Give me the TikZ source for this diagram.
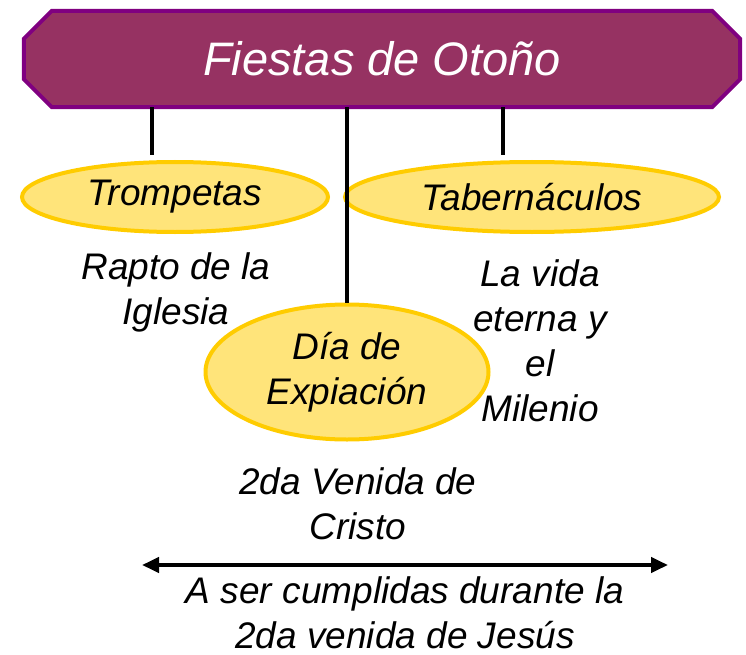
\documentclass[tikz,border=0pt]{standalone}
\usepackage{fontspec}
\setmainfont{Liberation Sans}
\usetikzlibrary{shapes.geometric,arrows.meta,backgrounds}
\definecolor{bannerfill}{RGB}{150,50,98}
\definecolor{bannerline}{RGB}{128,0,128}
\definecolor{feastfill}{RGB}{255,228,122}
\definecolor{feastline}{RGB}{255,204,0}
\tikzset{
	x=1pt, y=-1pt,
	banner/.style={rectangle, text=white, minimum width=716pt, minimum height=96pt, inner sep=0pt, font=\fontsize{47}{56}\selectfont\itshape},
	bannerbox/.style={draw=bannerline, fill=bannerfill, line width=4pt},
	feast/.style={ellipse, draw=feastline, fill=feastfill, line width=4pt, inner sep=0pt, align=center, font=\fontsize{37}{45}\selectfont\itshape},
	note/.style={align=center, font=\fontsize{37}{45}\selectfont\itshape},
	link/.style={line width=4pt}
}

\begin{document}
\begin{tikzpicture}
		\useasboundingbox (0,0) rectangle (746,655);
		\node[banner] (ban) at (382,59) {Fiestas de Otoño};
		\begin{pgfonlayer}{background}
			\draw[bannerbox] ([xshift=28pt]ban.north west) -- ([xshift=-28pt]ban.north east)
				-- ([yshift=-28pt]ban.north east) -- ([yshift=28pt]ban.south east)
				-- ([xshift=-28pt]ban.south east) -- ([xshift=28pt]ban.south west)
				-- ([yshift=28pt]ban.south west) -- ([yshift=-28pt]ban.north west) -- cycle;
		\end{pgfonlayer}
		\node[feast, minimum width=306pt, minimum height=70pt] (tromp) at (175,197) {Trompetas};
		\node[feast, minimum width=374pt, minimum height=70pt] (taber) at (532,197) {Tabernáculos};
		\node[feast, minimum width=283pt, minimum height=135pt] (dia) at (347,372) {Día de\\Expiación};
		\node[note] (rapto) at (176,292) {Rapto de la\\Iglesia};
		\node[note] (vida) at (540,341) {La vida\\eterna y\\el\\Milenio};
		\node[note] (venida) at (358,504) {2da Venida de\\Cristo};
		\node[note] (durante) at (405,613) {A ser cumplidas durante la\\2da venida de Jesús};
		\coordinate (tromptop) at (152,155);
		\coordinate (tabertop) at (503,155);
		\coordinate (left) at (142,565);
		\coordinate (right) at (668,565);
		\path[link]
			(ban.south -| tromptop) edge (tromptop)
			(ban.south -| tabertop) edge (tabertop)
			(ban.south -| dia.north) edge (dia.north);
		\draw[link, {Triangle[length=17pt,width=15pt]}-{Triangle[length=17pt,width=15pt]}] (left) -- (right);
	\end{tikzpicture}
\end{document}
